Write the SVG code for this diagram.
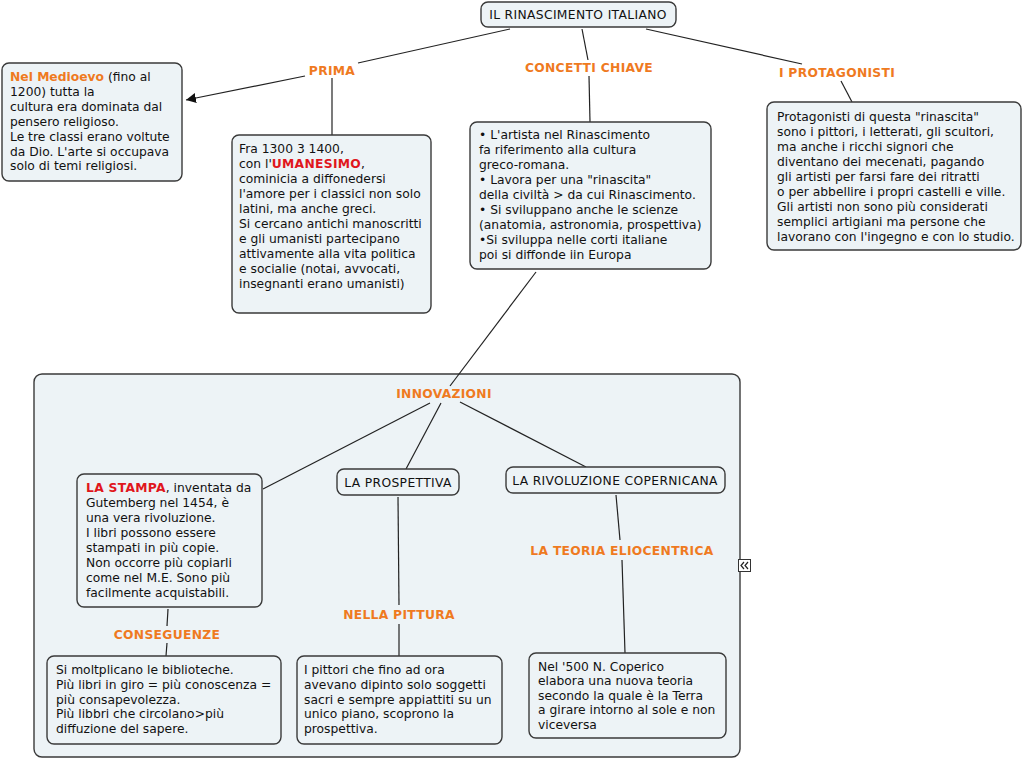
<svg xmlns="http://www.w3.org/2000/svg" width="1024" height="760" viewBox="0 0 1024 760">
<defs>
<style>
.box{fill:#edf3f6;stroke:#3a3a3a;stroke-width:1.4}
.t{font-family:"DejaVu Sans",Verdana,sans-serif;font-size:12.3px;fill:#111}
.caps{letter-spacing:0.35px}
.lbl{font-family:"DejaVu Sans",Verdana,sans-serif;font-size:12.3px;font-weight:bold;fill:#ef7a1f;letter-spacing:0.3px}
.red{font-weight:bold;fill:#e0161c;letter-spacing:0.3px}
.org{font-weight:bold;fill:#ef7a1f}
.c{fill:none;stroke:#222;stroke-width:1.2}
</style>
<marker id="arr" viewBox="0 0 10 10" refX="10" refY="5" markerWidth="10" markerHeight="10" markerUnits="userSpaceOnUse" orient="auto"><path d="M0,0 L10,5 L0,10 z" fill="#111"/></marker>
</defs>
<rect width="1024" height="760" fill="#fff"/>
<g id="innovazioni-container">
<rect class="box" x="34" y="374" width="706" height="383" rx="8"/>
</g>
<g id="connectors">
<line class="c" x1="510" y1="29" x2="358" y2="63"/>
<line class="c" x1="582" y1="29" x2="588" y2="60"/>
<line class="c" x1="646" y1="29" x2="802" y2="64"/>
<line class="c" x1="305" y1="76" x2="186" y2="100" marker-end="url(#arr)"/>
<line class="c" x1="332" y1="78" x2="332" y2="135"/>
<line class="c" x1="589" y1="76" x2="590" y2="122"/>
<line class="c" x1="841" y1="81" x2="852" y2="102"/>
<line class="c" x1="536" y1="272" x2="450" y2="386"/>
<line class="c" x1="430" y1="403" x2="263" y2="489"/>
<line class="c" x1="441" y1="403" x2="406" y2="469"/>
<line class="c" x1="460" y1="402" x2="586" y2="467"/>
<line class="c" x1="168" y1="609" x2="167" y2="626"/>
<line class="c" x1="167" y1="643" x2="166" y2="656"/>
<line class="c" x1="398" y1="497" x2="399" y2="605"/>
<line class="c" x1="399" y1="624" x2="399" y2="656"/>
<line class="c" x1="616" y1="495" x2="620" y2="540"/>
<line class="c" x1="622" y1="560" x2="625" y2="653"/>
</g>
<g id="root">
<rect class="box" x="481" y="2" width="195" height="25" rx="7"/>
<text class="t caps" x="578" y="19" text-anchor="middle">IL RINASCIMENTO ITALIANO</text>
</g>
<g id="lbl-prima"><text class="lbl" x="332" y="75" text-anchor="middle">PRIMA</text></g>
<g id="lbl-concetti"><text class="lbl" x="589" y="72" text-anchor="middle">CONCETTI CHIAVE</text></g>
<g id="lbl-protagonisti"><text class="lbl" x="837" y="77" text-anchor="middle">I PROTAGONISTI</text></g>
<g id="medioevo">
<rect class="box" x="2" y="63" width="180" height="118" rx="7"/>
<text class="t" x="10" y="81"><tspan class="org">Nel Medioevo</tspan> (fino al</text>
<text class="t" x="10" y="95.9">1200) tutta la</text>
<text class="t" x="10" y="110.8">cultura era dominata dal</text>
<text class="t" x="10" y="125.7">pensero religioso.</text>
<text class="t" x="10" y="140.6">Le tre classi erano voltute</text>
<text class="t" x="10" y="155.5">da Dio. L'arte si occupava</text>
<text class="t" x="10" y="170.4">solo di temi religiosi.</text>
</g>
<g id="umanesimo">
<rect class="box" x="232" y="135" width="199" height="178" rx="7"/>
<text class="t" x="239" y="153">Fra 1300 3 1400,</text>
<text class="t" x="239" y="168">con l'<tspan class="red">UMANESIMO</tspan>,</text>
<text class="t" x="239" y="183">cominicia a diffonedersi</text>
<text class="t" x="239" y="198">l'amore per i classici non solo</text>
<text class="t" x="239" y="213">latini, ma anche greci.</text>
<text class="t" x="239" y="228">Si cercano antichi manoscritti</text>
<text class="t" x="239" y="243">e gli umanisti partecipano</text>
<text class="t" x="239" y="258">attivamente alla vita politica</text>
<text class="t" x="239" y="273">e socialie (notai, avvocati,</text>
<text class="t" x="239" y="288">insegnanti erano umanisti)</text>
</g>
<g id="concetti">
<rect class="box" x="470" y="122" width="241" height="147" rx="7"/>
<text class="t" x="479" y="139">• L'artista nel Rinascimento</text>
<text class="t" x="479" y="154">fa riferimento alla cultura</text>
<text class="t" x="479" y="169">greco-romana.</text>
<text class="t" x="479" y="184">• Lavora per una "rinascita"</text>
<text class="t" x="479" y="199">della civiltà &gt; da cui Rinascimento.</text>
<text class="t" x="479" y="214">• Si sviluppano anche le scienze</text>
<text class="t" x="479" y="229">(anatomia, astronomia, prospettiva)</text>
<text class="t" x="479" y="244">•Si sviluppa nelle corti italiane</text>
<text class="t" x="479" y="259">poi si diffonde iin Europa</text>
</g>
<g id="protagonisti">
<rect class="box" x="767" y="102" width="254" height="148" rx="7"/>
<text class="t" x="777" y="121">Protagonisti di questa "rinascita"</text>
<text class="t" x="777" y="136">sono i pittori, i letterati, gli scultori,</text>
<text class="t" x="777" y="151">ma anche i ricchi signori che</text>
<text class="t" x="777" y="166">diventano dei mecenati, pagando</text>
<text class="t" x="777" y="181">gli artisti per farsi fare dei ritratti</text>
<text class="t" x="777" y="196">o per abbellire i propri castelli e ville.</text>
<text class="t" x="777" y="211">Gli artisti non sono più considerati</text>
<text class="t" x="777" y="226">semplici artigiani ma persone che</text>
<text class="t" x="777" y="241">lavorano con l'ingegno e con lo studio.</text>
</g>
<g id="lbl-innovazioni"><text class="lbl" x="444" y="398" text-anchor="middle">INNOVAZIONI</text></g>
<g id="stampa">
<rect class="box" x="77" y="474" width="185" height="133" rx="7"/>
<text class="t" x="86" y="492"><tspan class="red">LA STAMPA</tspan>, inventata da</text>
<text class="t" x="86" y="507">Gutemberg nel 1454, è</text>
<text class="t" x="86" y="522">una vera rivoluzione.</text>
<text class="t" x="86" y="537">I libri possono essere</text>
<text class="t" x="86" y="552">stampati in più copie.</text>
<text class="t" x="86" y="567">Non occorre più copiarli</text>
<text class="t" x="86" y="582">come nel M.E. Sono più</text>
<text class="t" x="86" y="597">facilmente acquistabili.</text>
</g>
<g id="prospettiva">
<rect class="box" x="337" y="469" width="122" height="26" rx="7"/>
<text class="t caps" x="398" y="487" text-anchor="middle">LA PROSPETTIVA</text>
</g>
<g id="copernicana">
<rect class="box" x="506" y="467" width="219" height="26" rx="7"/>
<text class="t caps" x="615" y="485" text-anchor="middle">LA RIVOLUZIONE COPERNICANA</text>
</g>
<g id="lbl-conseguenze"><text class="lbl" x="167" y="639" text-anchor="middle">CONSEGUENZE</text></g>
<g id="lbl-pittura"><text class="lbl" x="399" y="619" text-anchor="middle">NELLA PITTURA</text></g>
<g id="lbl-eliocentrica"><text class="lbl" x="622" y="555" text-anchor="middle">LA TEORIA ELIOCENTRICA</text></g>
<g id="conseguenze">
<rect class="box" x="47" y="656" width="234" height="88" rx="7"/>
<text class="t" x="56" y="674">Si moltplicano le biblioteche.</text>
<text class="t" x="56" y="689">Più libri in giro = più conoscenza =</text>
<text class="t" x="56" y="703.5">più consapevolezza.</text>
<text class="t" x="56" y="718">Più libbri che circolano&gt;più</text>
<text class="t" x="56" y="732.5">diffuzione del sapere.</text>
</g>
<g id="pittura">
<rect class="box" x="297" y="656" width="205" height="88" rx="7"/>
<text class="t" x="304" y="674">I pittori che fino ad ora</text>
<text class="t" x="304" y="689">avevano dipinto solo soggetti</text>
<text class="t" x="304" y="703.5">sacri e sempre appiattiti su un</text>
<text class="t" x="304" y="718">unico piano, scoprono la</text>
<text class="t" x="304" y="732.5">prospettiva.</text>
</g>
<g id="coperico">
<rect class="box" x="529" y="653" width="197" height="85" rx="7"/>
<text class="t" x="538" y="670.5">Nel '500 N. Coperico</text>
<text class="t" x="538" y="685">elabora una nuova teoria</text>
<text class="t" x="538" y="699.5">secondo la quale è la Terra</text>
<text class="t" x="538" y="714">a girare intorno al sole e non</text>
<text class="t" x="538" y="728.5">viceversa</text>
</g>
<g id="collapse-icon">
<rect x="738.5" y="559.5" width="12" height="12" fill="#fff" stroke="#333" stroke-width="1"/>
<path d="M744,562 L741,565.5 L744,569 M748,562 L745,565.5 L748,569" fill="none" stroke="#222" stroke-width="1.2"/>
</g>
</svg>
